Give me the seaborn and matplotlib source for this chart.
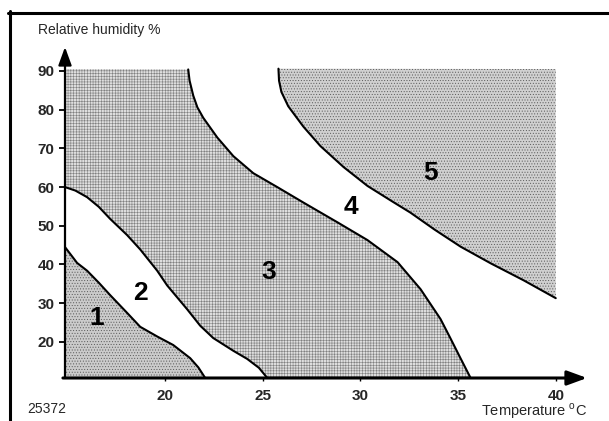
import matplotlib
matplotlib.use("Agg")
import matplotlib.pyplot as plt
from matplotlib.lines import Line2D
import seaborn as sns

# Zone boundaries: temperature (°C) vs relative humidity (%)
zone1_t = [14.87, 15.49, 16.0, 16.6, 17.18, 18.05, 18.72, 19.59, 20.41, 21.28, 21.7, 22.05]
zone1_h = [44.5, 40.4, 38.4, 35.3, 32.1, 27.5, 23.9, 21.4, 19.2, 15.8, 13.4, 10.67]

zone2_t = [14.87, 15.4, 16.0, 16.6, 17.18, 18.05, 18.72, 19.59, 20.1, 21.13, 21.79, 22.46, 23.49, 24.2, 24.8, 25.23]
zone2_h = [60.0, 59.1, 57.4, 54.9, 51.8, 47.6, 43.9, 38.4, 34.6, 28.4, 24.2, 21.0, 17.7, 15.6, 13.3, 10.67]

zone3_t = [21.18, 21.25, 21.44, 21.65, 21.95, 22.67, 23.49, 24.51, 25.74, 27.08, 28.82, 30.36, 31.9, 33.08, 34.1, 34.6, 35.1, 35.64]
zone3_h = [90.4, 87.5, 83.6, 80.6, 77.9, 72.8, 68.0, 63.6, 60.0, 56.0, 50.9, 46.3, 40.6, 33.6, 25.9, 21.0, 16.0, 10.67]

zone5_t = [25.8, 25.83, 25.95, 26.3, 27.08, 27.95, 29.13, 30.36, 31.69, 32.56, 33.8, 35.13, 36.67, 38.36, 40.0]
zone5_h = [90.6, 87.5, 84.6, 80.9, 75.6, 70.6, 65.2, 60.3, 56.1, 53.4, 49.0, 44.6, 40.3, 35.9, 31.3]

zone_labels = ["1", "2", "3", "4", "5"]
label_t = [16.5, 18.72, 25.28, 29.49, 33.59]
label_h = [26.2, 32.6, 38.1, 54.9, 63.6]

x_ticks = [20, 25, 30, 35, 40]
y_ticks = [20, 30, 40, 50, 60, 70, 80, 90]

T_MIN, T_MAX = 14.87, 41.6
H_MIN, H_MAX = 10.67, 96.2
H_TOP = 90.5

sns.set_theme(style="white")
plt.rcParams["font.family"] = ["Liberation Sans", "DejaVu Sans"]
plt.rcParams["mathtext.fontset"] = "custom"
plt.rcParams["mathtext.rm"] = "Liberation Sans"
plt.rcParams["hatch.linewidth"] = 0.4

fig = plt.figure(figsize=(6.09, 4.21), dpi=100)
fig.patch.set_facecolor("white")
ax = fig.add_axes([65 / 609, 43 / 421, 522 / 609, 331 / 421])
ax.set_facecolor("white")
ax.set_xlim(T_MIN, T_MAX)
ax.set_ylim(H_MIN, H_MAX)

# Zone 1: stippled area in the lower-left corner
ax.fill(zone1_t + [T_MIN], zone1_h + [H_MIN], facecolor="#cbcbcb",
        edgecolor="#5a5a5a", hatch="......", linewidth=0, zorder=1)

# Zone 3: cross-hatched band between the zone-2 and zone-4 boundaries
z3_t = [T_MIN, T_MIN] + zone3_t + zone2_t[::-1]
z3_h = [zone2_h[0], H_TOP] + zone3_h + zone2_h[::-1]
ax.fill(z3_t, z3_h, facecolor="#dedede", edgecolor="#808080",
        hatch="++++++", linewidth=0, zorder=1)

# Zone 5: stippled area in the upper-right corner
ax.fill(zone5_t + [zone5_t[-1]], zone5_h + [H_TOP], facecolor="#d0d0d0",
        edgecolor="#5a5a5a", hatch="......", linewidth=0, zorder=1)

# Boundary curves
for t, h in [(zone1_t, zone1_h), (zone2_t, zone2_h), (zone3_t, zone3_h), (zone5_t, zone5_h)]:
    sns.lineplot(x=t, y=h, sort=False, estimator=None, color="black",
                 linewidth=1.5, ax=ax, zorder=3)

for lab, t, h in zip(zone_labels, label_t, label_h):
    ax.text(t, h, lab, fontsize=19, fontweight="bold", ha="center", va="center",
            color="black", zorder=4)

# Axes drawn as arrows
for sp in ax.spines.values():
    sp.set_visible(False)
ax.annotate("", xy=(1, 0), xytext=(-0.004, 0), xycoords="axes fraction",
            arrowprops=dict(arrowstyle="-|>,head_length=0.6,head_width=0.22",
                            mutation_scale=20, lw=2.2, color="black",
                            shrinkA=0, shrinkB=0), zorder=5)
ax.annotate("", xy=(0, 1), xytext=(0, 0), xycoords="axes fraction",
            arrowprops=dict(arrowstyle="-|>,head_length=0.55,head_width=0.2",
                            mutation_scale=20, lw=1.6, color="black",
                            shrinkA=0, shrinkB=0), zorder=5)

ax.set_xticks(x_ticks)
ax.set_xticklabels([str(v) for v in x_ticks], fontsize=11, fontweight="bold")
ax.set_yticks(y_ticks)
ax.set_yticklabels([str(v) for v in y_ticks], fontsize=11, fontweight="bold")
ax.tick_params(axis="y", direction="out", length=4, width=1.3, pad=3.5, color="black",
               left=True)
ax.tick_params(axis="x", direction="out", length=2, width=1.0, pad=6, color="black",
               bottom=True)
ax.grid(False)

fig.text(38 / 609, 1 - 34 / 421, "Relative humidity %", fontsize=10,
         ha="left", va="baseline")
fig.text(587 / 609, 1 - 416 / 421, r"Temperature $^{\mathrm{o}}$C", fontsize=10.5,
         ha="right", va="baseline")
fig.text(27 / 609, 1 - 413 / 421, "25372", fontsize=10, ha="left", va="baseline")

# Outer frame (top and left edges)
fig.add_artist(Line2D([8 / 609, 1.0], [1 - 12.5 / 421, 1 - 12.5 / 421],
                      color="black", linewidth=2.2, transform=fig.transFigure))
fig.add_artist(Line2D([9.5 / 609, 9.5 / 609], [0.0, 1 - 11 / 421],
                      color="black", linewidth=2.2, transform=fig.transFigure))

fig.savefig("out.png", dpi=100, facecolor="white")
